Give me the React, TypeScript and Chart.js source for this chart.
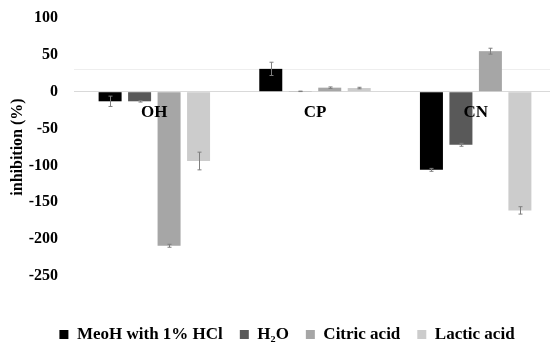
import React, { useEffect, useRef } from "react";
import { Chart, registerables } from "chart.js";

Chart.register(...registerables);

const categories = ["OH", "CP", "CN"];
const seriesNames = ["MeoH with 1% HCl", "H₂O", "Citric acid", "Lactic acid"];
const meohValues = [-13, 31, -106];
const h2oValues = [-13, 0.5, -72];
const citricValues = [-209, 5.5, 55];
const lacticValues = [-94, 5, -161];
const meohErrors = [7, 9, 2];
const h2oErrors = [1, 0.3, 2];
const citricErrors = [2, 1, 4];
const lacticErrors = [12, 1, 5];
const yTicks = [100, 50, 0, -50, -100, -150, -200, -250];
const referenceLine = 31;

const seriesValues = [meohValues, h2oValues, citricValues, lacticValues];
const seriesErrors = [meohErrors, h2oErrors, citricErrors, lacticErrors];
const seriesColors = ["#000000", "#595959", "#a6a6a6", "#cccccc"];

const FONT = "'Times New Roman', 'Liberation Serif', serif";

const errorBarPlugin = {
  id: "errorBars",
  afterDatasetsDraw(chart: any) {
    const ctx = chart.ctx;
    const y = chart.scales.y;
    ctx.save();
    ctx.strokeStyle = "#7f7f7f";
    ctx.lineWidth = 1;
    chart.data.datasets.forEach((ds: any, di: number) => {
      const meta = chart.getDatasetMeta(di);
      meta.data.forEach((bar: any, i: number) => {
        const v = ds.data[i];
        const e = ds.errors[i];
        const x = Math.round(bar.x) + 0.5;
        const y1 = y.getPixelForValue(v - e);
        const y2 = y.getPixelForValue(v + e);
        ctx.beginPath();
        ctx.moveTo(x, y1);
        ctx.lineTo(x, y2);
        ctx.moveTo(x - 2, y1);
        ctx.lineTo(x + 2, y1);
        ctx.moveTo(x - 2, y2);
        ctx.lineTo(x + 2, y2);
        ctx.stroke();
      });
    });
    // category labels just below zero line
    const xs = chart.scales.x;
    const y0 = y.getPixelForValue(0);
    ctx.fillStyle = "#000000";
    ctx.font = `bold 17px ${FONT}`;
    ctx.textAlign = "center";
    ctx.textBaseline = "middle";
    categories.forEach((c, i) => {
      ctx.fillText(c, xs.getPixelForValue(i), y0 + 21);
    });
    ctx.restore();
  },
  beforeDatasetsDraw(chart: any) {
    const ctx = chart.ctx;
    const y = chart.scales.y;
    const area = chart.chartArea;
    const py = Math.round(y.getPixelForValue(referenceLine)) + 0.5;
    ctx.save();
    ctx.strokeStyle = "#eeeeee";
    ctx.lineWidth = 1;
    ctx.beginPath();
    ctx.moveTo(area.left, py);
    ctx.lineTo(area.right, py);
    ctx.stroke();
    ctx.restore();
  },
};

export default function App() {
  const canvasRef = useRef<HTMLCanvasElement | null>(null);

  useEffect(() => {
    document.body.style.margin = "0";
    const canvas = canvasRef.current;
    if (!canvas) return;
    const chart = new Chart(canvas, {
      type: "bar",
      data: {
        labels: categories,
        datasets: seriesNames.map((name, i) => ({
          label: name,
          data: seriesValues[i],
          errors: seriesErrors[i],
          backgroundColor: seriesColors[i],
          borderWidth: 0,
          categoryPercentage: 0.734,
          barPercentage: 0.78,
        })) as any,
      },
      options: {
        responsive: false,
        animation: false,
        layout: { padding: { left: 18, top: 18, right: 0, bottom: -3 } },
        plugins: {
          tooltip: { enabled: false },
          legend: {
            position: "bottom",
            labels: {
              boxWidth: 9,
              boxHeight: 9,
              padding: 17,
              color: "#000000",
              font: { family: FONT, size: 17, weight: "bold" },
            },
          },
        },
        scales: {
          x: {
            type: "category",
            grid: { display: false, drawTicks: false },
            border: { display: false },
            ticks: { display: false },
            afterFit: (s: any) => {
              s.height = 33;
            },
          },
          y: {
            min: -250,
            max: 100,
            afterBuildTicks: (s: any) => {
              s.ticks = yTicks.map((v) => ({ value: v }));
            },
            afterFit: (s: any) => {
              s.width = 56;
            },
            border: { display: false },
            grid: {
              drawTicks: true,
              tickLength: 8,
              tickColor: "rgba(0,0,0,0)",
              color: (c: any) => (c.tick && c.tick.value === 0 ? "#d9d9d9" : "rgba(0,0,0,0)"),
            },
            ticks: {
              padding: 8,
              color: "#000000",
              font: { family: FONT, size: 16, weight: "bold" },
            },
            title: {
              display: true,
              text: "inhibition (%)",
              color: "#000000",
              padding: { top: -9.6, bottom: 0 },
              font: { family: FONT, size: 16, weight: "bold" },
            },
          },
        },
      } as any,
      plugins: [errorBarPlugin],
    });
    return () => chart.destroy();
  }, []);

  return (
    <div style={{ position: "fixed", left: 0, top: 0, width: 550, height: 350, overflow: "hidden", background: "#fff" }}>
      <canvas ref={canvasRef} width={556} height={350} style={{ display: "block" }} />
    </div>
  );
}
